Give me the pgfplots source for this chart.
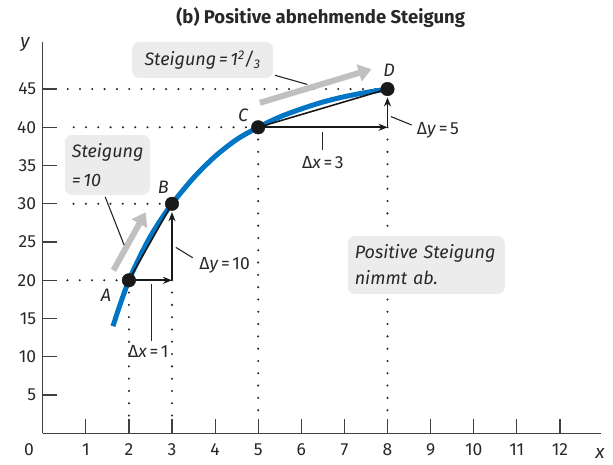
\documentclass[border=0pt]{standalone}
\usepackage{pgfplots}
\pgfplotsset{compat=1.18}
\usetikzlibrary{arrows.meta}
\usepackage{fontspec}
\setmainfont{Fira Sans}
\definecolor{curveblue}{RGB}{0,118,196}
\definecolor{arrowgray}{RGB}{192,192,192}
\definecolor{boxgray}{RGB}{236,236,236}
\definecolor{txt}{RGB}{40,40,40}
\newcommand{\eq}{\kern2.6pt=\kern2.6pt}
\begin{document}
\begin{tikzpicture}[font=\fontsize{17.5}{20}\selectfont,
  dots/.style={line width=2.3pt, line cap=round, dash pattern=on 0pt off 12.3pt, black!85},
  blk/.style={line width=1.6pt, black!90},
  blkarrow/.style={line width=1.6pt, black!90, -{Stealth[length=9pt,width=7pt]}},
  grayarrow/.style={line width=6pt, arrowgray, -{Triangle[length=13pt,width=17pt]}},
  leader/.style={line width=1.1pt, black!85},
  gbox/.style={fill=boxgray, rounded corners=7pt, text=txt, font=\fontsize{18}{26}\selectfont\itshape},
  lab/.style={text=txt, font=\fontsize{17.5}{20}\selectfont}
]
\begin{axis}[
  x=43.1pt, y=7.65pt,
  xmin=0, xmax=12.95, ymin=0, ymax=51.1,
  axis lines=left,
  axis line style={-, line width=1.3pt, black!75},
  clip=false,
  xtick={1,...,12}, ytick={5,10,...,45},
  tick align=inside, major tick length=14pt,
  tick style={line width=1.2pt, black!75},
  tick label style={font=\fontsize{17.5}{20}\selectfont, text=txt},
  /pgf/number format/assume math mode=true,
  xticklabel style={yshift=-6.5pt},
  yticklabel style={xshift=-3pt},
]
\coordinate (O) at (axis cs:0,0);
% dotted guide lines
\draw[dots] (axis cs:8,45) -- (axis cs:0.45,45);
\draw[dots] (axis cs:5,40) -- (axis cs:0.45,40);
\draw[dots] (axis cs:3,30) -- (axis cs:0.45,30);
\draw[dots] (axis cs:2,20) -- (axis cs:0.45,20);
\draw[dots] (axis cs:2,20) -- (axis cs:2,1.6);
\draw[dots] (axis cs:3,20) -- (axis cs:3,1.6);
\draw[dots] (axis cs:5,40) -- (axis cs:5,1.6);
\draw[dots] (axis cs:8,40) -- (axis cs:8,1.6);
% curve
\addplot[curveblue, line width=5pt, smooth, line cap=butt] coordinates {
 (1.63,14) (1.8,16.9) (2,20) (2.25,23.05) (2.5,25.75) (2.75,28.0) (3,30)
 (3.5,33.4) (4,36.2) (4.5,38.4) (5,40) (5.5,41.35) (6,42.4) (6.5,43.3)
 (7,44.0) (7.5,44.55) (8,45)};
% chords
\addplot[blk] coordinates {(2,20) (3,30)};
\addplot[blk] coordinates {(5,40) (8,45)};
% delta arrows
\draw[blkarrow] (axis cs:2,20) -- (axis cs:3,20);
\draw[blkarrow] (axis cs:3,20) -- (axis cs:3,28.9);
\draw[blkarrow] (axis cs:5,40) -- (axis cs:8,40);
\draw[blkarrow] (axis cs:8,40) -- (axis cs:8,43.9);
% gray slope arrows
\draw[grayarrow] (axis cs:1.64,21.3) -- (axis cs:2.39,28.9);
\draw[grayarrow] (axis cs:5.04,43.2) -- (axis cs:7.63,47.6);
% leaders
\draw[leader] (axis cs:3.48,22.95) -- (axis cs:3.09,24.3);
\draw[leader] (axis cs:2.53,19.5) -- (axis cs:2.53,12.0);
\draw[leader] (axis cs:6.5,39.4) -- (axis cs:6.5,37.0);
\draw[leader] (axis cs:8.08,41.4) -- (axis cs:8.56,40.3);
\draw[leader] (axis cs:5.39,46.8) -- (axis cs:6.14,45.6);
\draw[leader] (axis cs:1.45,30.9) -- (axis cs:1.89,24.6);
% points
\addplot[only marks, mark=*, mark size=6.8pt, color=black!90] coordinates {(2,20) (3,30) (5,40) (8,45)};
% point labels
\node[lab, font=\fontsize{18}{20}\selectfont\itshape] at (axis cs:1.47,18.0) {A};
\node[lab, font=\fontsize{18}{20}\selectfont\itshape] at (axis cs:2.80,32.2) {B};
\node[lab, font=\fontsize{18}{20}\selectfont\itshape] at (axis cs:4.65,41.6) {C};
\node[lab, font=\fontsize{18}{20}\selectfont\itshape] at (axis cs:8.04,47.4) {D};
% delta labels
\node[lab] at (axis cs:4.22,22.0) {Δ\textit{y}\eq10};
\node[lab] at (axis cs:2.45,10.67) {Δ\textit{x}\eq1};
\node[lab] at (axis cs:6.5,35.4) {Δ\textit{x}\eq3};
\node[lab] at (axis cs:9.17,39.65) {Δ\textit{y}\eq5};
% boxes
\node[gbox, minimum width=141pt, minimum height=36pt, inner sep=0pt] at (axis cs:3.71,48.8) {Steigung\eq1\textsuperscript{2}/\textsubscript{3}};
\node[gbox, minimum width=85pt, minimum height=60pt, inner sep=7pt, align=left, text width=71pt] at (axis cs:1.50,35.07) {Steigung\\\eq10};
\node[gbox, minimum width=157pt, minimum height=58pt, inner sep=7pt, align=left, text width=143pt] at (axis cs:8.90,22.0) {Positive Steigung\\nimmt ab.};
% axis labels
\node[lab, font=\fontsize{19}{20}\selectfont\itshape] at (axis cs:-0.41,50.8) {y};
\node[lab, font=\fontsize{19}{20}\selectfont\itshape] at (axis cs:12.93,-2.6) {x};
\node[lab, anchor=north, yshift=-6.5pt] at (axis cs:-0.32,0) {0};
% title
\node[lab, font=\fontsize{18.5}{20}\selectfont\bfseries] at (axis cs:6.45,54.4) {(b) Positive abnehmende Steigung};
\end{axis}
\pgfresetboundingbox
\path[use as bounding box] ([shift={(-42.7pt,-31.7pt)}]O) rectangle ([shift={(570.3pt,433.3pt)}]O);
\end{tikzpicture}
\end{document}
